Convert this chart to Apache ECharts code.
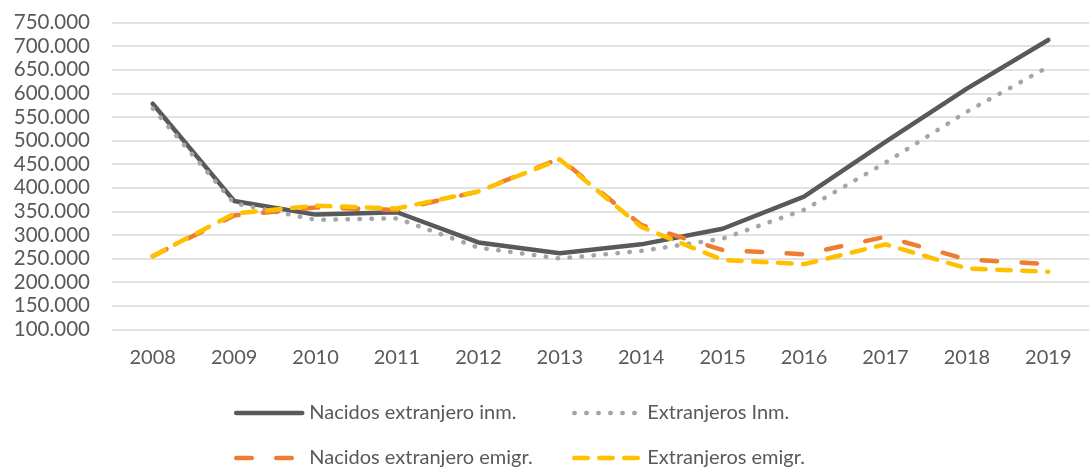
<!DOCTYPE html>
<html>
<head>
<meta charset="utf-8">
<title>Inmigración y emigración</title>
<script src="https://cdn.jsdelivr.net/npm/echarts@6/dist/echarts.min.js"></script>
<style>
  html, body { margin: 0; padding: 0; background: #fff; }
  #chart { width: 1089px; height: 469px; }
</style>
</head>
<body>
<div id="chart"></div>
<script>
// años
const years = ["2008", "2009", "2010", "2011", "2012", "2013", "2014", "2015", "2016", "2017", "2018", "2019"];

// series (personas)
const nacidosInm = [578000, 372000, 343000, 348000, 284000, 261000, 280000, 313000, 381000, 497000, 610000, 713000];
const extranjerosInm = [568000, 367000, 332000, 335000, 273000, 250000, 266000, 292000, 353000, 453000, 561000, 656000];
const nacidosEmigr = [255000, 341000, 358000, 353000, 392000, 462000, 321000, 268000, 259000, 296000, 248000, 238000];
const extranjerosEmigr = [255000, 345000, 362000, 356000, 392000, 460000, 317000, 247000, 238000, 280000, 229000, 222000];

const seriesNames = ["Nacidos extranjero inm.", "Extranjeros Inm.", "Nacidos extranjero emigr.", "Extranjeros emigr."];

const textColor = "#595959";
const fontFam = "Lato, 'Noto Sans', sans-serif";

// 750000 -> "750.000"
const fmtMiles = (v) => String(v).replace(/\B(?=(\d{3})+(?!\d))/g, ".");

const chart = echarts.init(document.getElementById("chart"), null, { renderer: "canvas" });

const lineSerie = (name, data, color, dash) => ({
  name: name,
  type: "line",
  data: data,
  symbol: "none",
  smooth: false,
  lineStyle: {
    color: color,
    width: 4.5,
    type: dash,
    cap: "round",
    join: "round",
  },
  itemStyle: { color: color },
});

// una leyenda por elemento, en rejilla de 2 columnas
const legendItem = (name, left, top) => ({
  data: [name],
  left: left,
  top: top,
  itemWidth: 66,
  itemHeight: 14,
  itemGap: 0,
  padding: 0,
  itemStyle: { opacity: 0 }, // sin símbolo, sólo la línea
  lineStyle: { width: 4.5, cap: "round" },
  textStyle: { color: textColor, fontSize: 20, fontFamily: fontFam, padding: [0, 0, 0, 2] },
});

const option = {
  animation: false,
  backgroundColor: "#ffffff",
  grid: { left: 112, top: 22.5, width: 987, height: 306.8, containLabel: false },
  legend: [
    legendItem(seriesNames[0], 234, 403),
    legendItem(seriesNames[1], 572, 403),
    legendItem(seriesNames[2], 234, 448),
    legendItem(seriesNames[3], 572, 448),
  ],
  xAxis: {
    type: "category",
    data: years,
    boundaryGap: true,
    axisTick: { show: false },
    axisLine: { show: false },
    axisLabel: { color: textColor, fontSize: 20, fontFamily: fontFam, margin: 18 },
  },
  yAxis: {
    type: "value",
    min: 100000,
    max: 750000,
    interval: 50000,
    axisLine: { show: false },
    axisTick: { show: false },
    axisLabel: {
      color: textColor,
      fontSize: 20.5,
      fontFamily: fontFam,
      margin: 22,
      formatter: (v) => fmtMiles(v),
    },
    splitLine: { lineStyle: { color: "#D9D9D9", width: 1.5 } },
  },
  series: [
    lineSerie(seriesNames[0], nacidosInm, "#595959", "solid"),
    lineSerie(seriesNames[1], extranjerosInm, "#A5A5A5", [0.5, 11.5]),
    lineSerie(seriesNames[2], nacidosEmigr, "#ED7D31", [15.5, 24.5]),
    lineSerie(seriesNames[3], extranjerosEmigr, "#FFC000", [13.5, 11.5]),
  ],
};

chart.setOption(option);
</script>
</body>
</html>
